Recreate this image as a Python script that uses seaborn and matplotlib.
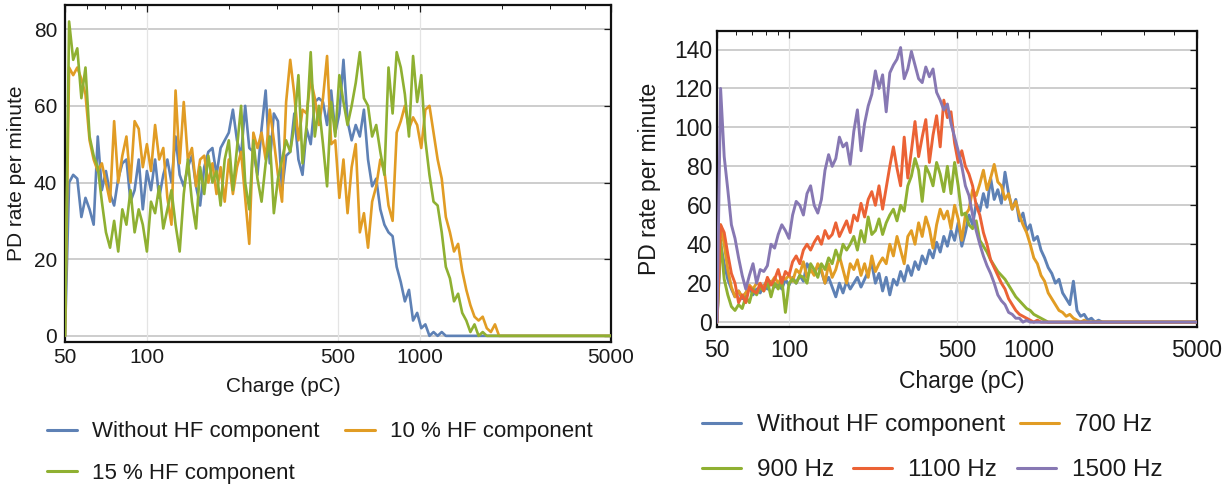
import numpy as np
import pandas as pd
import matplotlib
matplotlib.use("Agg")
import matplotlib.pyplot as plt
from matplotlib.ticker import FixedLocator, FixedFormatter, NullFormatter
from matplotlib.lines import Line2D
import seaborn as sns

# ---------------- data ----------------
# charge bins: start at 50 pC, log-spaced bins (0.015 decade per bin)
X_START = 50
X_STEP_DECADES = 0.015
TAIL_X = 5000  # all series are 0 out to 5000 pC

LEFT_NAMES = ["Without HF component", "10 % HF component", "15 % HF component"]
LEFT_WITHOUT = [0, 40, 42, 41, 31, 36, 33, 29, 52, 38, 43, 37, 34, 41, 45, 46, 35, 38, 46, 33,
                43, 38, 46, 36, 42, 46, 40, 52, 42, 39, 44, 47, 39, 34, 44, 48, 49, 42, 49, 51,
                53, 59, 51, 47, 60, 49, 48, 42, 54, 64, 45, 58, 56, 38, 47, 48, 58, 46, 42, 54,
                50, 61, 62, 61, 55, 64, 53, 58, 72, 56, 51, 55, 52, 59, 46, 39, 41, 33, 29, 27,
                26, 18, 14, 9, 12, 4, 6, 2, 3, 0, 1, 0, 1, 0]
LEFT_10 = [0, 70, 68, 70, 67, 63, 51, 46, 43, 45, 40, 35, 56, 40, 47, 52, 40, 56, 54, 44,
           50, 43, 55, 46, 49, 36, 29, 64, 45, 61, 46, 49, 39, 46, 47, 40, 45, 37, 44, 35,
           46, 37, 44, 48, 36, 24, 53, 49, 53, 46, 59, 51, 42, 35, 61, 72, 63, 51, 59, 58,
           67, 62, 55, 62, 73, 50, 51, 36, 46, 32, 44, 50, 27, 32, 23, 35, 39, 46, 43, 34,
           30, 53, 56, 60, 54, 57, 55, 49, 59, 60, 53, 46, 41, 31, 27, 22, 24, 17, 12, 8,
           5, 4, 5, 2, 1, 3, 0]
LEFT_15 = [0, 82, 72, 75, 62, 70, 52, 47, 44, 35, 27, 23, 30, 22, 33, 29, 38, 27, 33, 29,
           22, 35, 32, 39, 28, 33, 38, 29, 22, 37, 46, 35, 28, 44, 37, 47, 40, 43, 34, 46,
           51, 38, 49, 60, 40, 33, 51, 41, 35, 45, 52, 32, 41, 46, 51, 48, 55, 68, 45, 55,
           74, 52, 60, 50, 39, 61, 52, 68, 61, 55, 60, 66, 74, 62, 60, 52, 55, 48, 42, 70,
           58, 74, 70, 63, 52, 73, 61, 68, 51, 42, 35, 34, 27, 18, 15, 9, 11, 6, 4, 1,
           3, 0, 1, 0]

RIGHT_NAMES = ["Without HF component", "700 Hz", "900 Hz", "1100 Hz", "1500 Hz"]
RIGHT_WITHOUT = [0, 40, 30, 22, 17, 13, 16, 12, 15, 18, 14, 17, 15, 19, 17, 21, 18, 20, 17, 22,
                 19, 23, 20, 24, 21, 30, 27, 25, 29, 26, 20, 23, 18, 13, 20, 15, 21, 17, 20, 23,
                 18, 22, 26, 30, 20, 25, 16, 23, 14, 22, 19, 26, 21, 29, 24, 31, 27, 34, 30, 37,
                 33, 41, 36, 44, 39, 47, 42, 51, 39, 46, 55, 50, 61, 57, 66, 59, 74, 63, 68, 61,
                 77, 66, 58, 63, 52, 56, 47, 50, 42, 44, 37, 33, 28, 25, 20, 22, 15, 12, 9, 21,
                 6, 3, 4, 1, 2, 0, 1, 0]
RIGHT_700 = [0, 50, 40, 27, 18, 13, 16, 13, 15, 19, 17, 20, 19, 18, 22, 20, 23, 20, 23, 22,
             24, 21, 27, 25, 31, 23, 27, 24, 30, 27, 20, 30, 23, 27, 34, 27, 20, 30, 27, 32,
             24, 30, 23, 34, 26, 30, 33, 30, 40, 34, 44, 37, 30, 44, 47, 40, 51, 44, 54, 48,
             38, 50, 58, 53, 57, 48, 60, 53, 42, 55, 58, 68, 65, 71, 78, 68, 74, 81, 72, 70,
             63, 66, 58, 62, 55, 50, 46, 40, 33, 30, 24, 21, 15, 12, 9, 6, 5, 3, 4, 2,
             1, 0, 1, 0]
RIGHT_900 = [0, 42, 22, 14, 8, 6, 9, 7, 13, 10, 17, 14, 18, 16, 21, 13, 20, 17, 22, 5,
             20, 22, 20, 24, 23, 20, 30, 27, 23, 30, 27, 33, 30, 37, 32, 40, 37, 40, 44, 37,
             47, 41, 54, 45, 47, 53, 45, 51, 55, 58, 52, 60, 57, 70, 75, 84, 78, 62, 80, 76,
             70, 82, 76, 67, 80, 66, 82, 70, 55, 56, 50, 48, 52, 42, 39, 36, 32, 29, 26, 24,
             22, 19, 16, 13, 11, 9, 7, 6, 4, 3, 2, 1, 0]
RIGHT_1100 = [0, 50, 46, 35, 25, 20, 10, 14, 10, 18, 16, 15, 20, 16, 23, 19, 22, 27, 20, 26,
              24, 31, 34, 30, 37, 40, 37, 41, 44, 40, 47, 43, 45, 51, 44, 48, 52, 46, 55, 52,
              61, 54, 63, 67, 60, 70, 58, 69, 80, 90, 79, 70, 95, 74, 88, 103, 85, 95, 104, 82,
              96, 106, 90, 114, 105, 108, 92, 82, 88, 80, 76, 70, 60, 55, 46, 40, 32, 28, 24, 20,
              17, 12, 9, 6, 4, 3, 2, 1, 0, 1, 0]
RIGHT_1500 = [0, 120, 85, 68, 50, 43, 33, 24, 17, 24, 30, 20, 27, 26, 29, 40, 38, 45, 50, 47,
              43, 55, 62, 60, 55, 66, 70, 60, 56, 63, 78, 86, 80, 84, 95, 90, 92, 81, 98, 109,
              88, 102, 111, 117, 129, 120, 127, 108, 128, 132, 135, 141, 125, 130, 139, 132, 125, 123, 131, 126,
              130, 118, 114, 109, 112, 102, 95, 88, 80, 70, 65, 55, 47, 40, 34, 29, 25, 20, 14, 11,
              9, 5, 4, 2, 2, 0, 1, 0]

X_TICKS = [50, 100, 500, 1000, 5000]
X_TICK_LABELS = ["50", "100", "500", "1000", "5000"]
X_MINOR = [60, 70, 80, 90, 200, 300, 400, 600, 700, 800, 900, 2000, 3000, 4000]
X_GRID_AT = [100, 500, 1000]
LEFT_Y_TICKS = [0, 20, 40, 60, 80]
RIGHT_Y_TICKS = [0, 20, 40, 60, 80, 100, 120, 140]

COLORS = {"blue": "#5E81B5", "orange": "#E19C24", "green": "#8FB032",
          "red": "#EB6235", "purple": "#8778B3"}
LEFT_COLORS = [COLORS["blue"], COLORS["orange"], COLORS["green"]]
RIGHT_COLORS = [COLORS["blue"], COLORS["orange"], COLORS["green"], COLORS["red"], COLORS["purple"]]


def build_frame(names, series_list):
    rows = []
    for name, ys in zip(names, series_list):
        xs = X_START * 10 ** (X_STEP_DECADES * np.arange(len(ys)))
        xs = list(xs) + [TAIL_X]
        yy = list(ys) + [0]
        rows.append(pd.DataFrame({"charge": xs, "rate": yy, "series": name}))
    return pd.concat(rows, ignore_index=True)


left_df = build_frame(LEFT_NAMES, [LEFT_WITHOUT, LEFT_10, LEFT_15])
right_df = build_frame(RIGHT_NAMES, [RIGHT_WITHOUT, RIGHT_700, RIGHT_900, RIGHT_1100, RIGHT_1500])

# ---------------- style ----------------
sns.set_theme(style="white")
plt.rcParams["font.family"] = ["Liberation Sans", "DejaVu Sans"]
plt.rcParams["text.color"] = "#1a1a1a"
plt.rcParams["axes.labelcolor"] = "#1a1a1a"
plt.rcParams["xtick.color"] = "#1a1a1a"
plt.rcParams["ytick.color"] = "#1a1a1a"

fig = plt.figure(figsize=(12.3, 4.91), dpi=100)
W, H = 1230.0, 491.0


def px_axes(left, right, top, bottom):
    return fig.add_axes([left / W, 1 - bottom / H, (right - left) / W, (bottom - top) / H])


ax_l = px_axes(65, 611, 5, 342)
ax_r = px_axes(717, 1197, 31, 327)


def style_axes(ax, yticks, ylim, fs, xpad, ypad):
    ax.set_xscale("log")
    ax.set_xlim(50, 5000)
    ax.set_ylim(*ylim)
    ax.xaxis.set_major_locator(FixedLocator(X_TICKS))
    ax.xaxis.set_major_formatter(FixedFormatter(X_TICK_LABELS))
    ax.xaxis.set_minor_locator(FixedLocator(X_MINOR))
    ax.xaxis.set_minor_formatter(NullFormatter())
    ax.set_yticks(yticks)
    ax.set_yticklabels([str(v) for v in yticks])
    for v in yticks:
        ax.axhline(v, color="#c9c9c9", lw=1.3, zorder=0)
    for v in X_GRID_AT:
        ax.axvline(v, color="#e4e4e4", lw=0.9, zorder=0)
    ax.tick_params(axis="both", which="both", direction="in", top=True, right=True,
                   labelsize=fs, colors="#1a1a1a")
    ax.tick_params(axis="both", which="major", length=5, width=0.9)
    ax.tick_params(axis="both", which="minor", length=3, width=0.7)
    ax.tick_params(axis="x", which="major", pad=xpad)
    ax.tick_params(axis="y", which="major", pad=ypad)
    for s in ax.spines.values():
        s.set_color("#111111")
        s.set_linewidth(1.6)


sns.lineplot(data=left_df, x="charge", y="rate", hue="series", hue_order=LEFT_NAMES,
             palette=LEFT_COLORS, estimator=None, sort=False, legend=False,
             linewidth=1.9, ax=ax_l, zorder=3)
sns.lineplot(data=right_df, x="charge", y="rate", hue="series", hue_order=RIGHT_NAMES,
             palette=RIGHT_COLORS, estimator=None, sort=False, legend=False,
             linewidth=2.1, ax=ax_r, zorder=3)

style_axes(ax_l, LEFT_Y_TICKS, (-1.6, 86.3), 15, 4.5, 5.5)
style_axes(ax_r, RIGHT_Y_TICKS, (-2.5, 149.5), 16.5, 8.5, 3.5)

ax_l.set_xlabel("Charge (pC)", fontsize=15)
ax_l.set_ylabel("PD rate per minute", fontsize=15)
ax_l.xaxis.set_label_coords(0.4, -0.104)
ax_l.yaxis.set_label_coords(-0.0714, 0.5)

ax_r.set_xlabel("Charge (pC)", fontsize=16.5)
ax_r.set_ylabel("PD rate per minute", fontsize=16.5)
ax_r.xaxis.set_label_coords(0.51, -0.145)
ax_r.yaxis.set_label_coords(-0.116, 0.5)


# ---------------- legends (one row per legend) ----------------
def legend_row(names, colors, x_px, y_px, fs, hl, htp, cs):
    handles = [Line2D([], [], color=c, lw=2.2) for c in colors]
    fig.legend(handles=handles, labels=names, ncol=len(names), loc="center left",
               bbox_to_anchor=(x_px / W, 1 - y_px / H), frameon=False, borderpad=0,
               borderaxespad=0, handlelength=hl, handletextpad=htp, columnspacing=cs,
               fontsize=fs)


legend_row([LEFT_NAMES[0], LEFT_NAMES[1]], [LEFT_COLORS[0], LEFT_COLORS[1]], 47, 432, 16, 1.35, 0.68, 1.15)
legend_row([LEFT_NAMES[2]], [LEFT_COLORS[2]], 47, 473, 16, 1.35, 0.68, 1.15)
legend_row([RIGHT_NAMES[0], RIGHT_NAMES[1]], [RIGHT_COLORS[0], RIGHT_COLORS[1]], 702, 425, 17.5, 1.6, 0.66, 0.6)
legend_row(RIGHT_NAMES[2:], RIGHT_COLORS[2:], 702, 470, 17.5, 1.6, 0.66, 0.8)

fig.savefig("out.png", dpi=100, facecolor="white")
